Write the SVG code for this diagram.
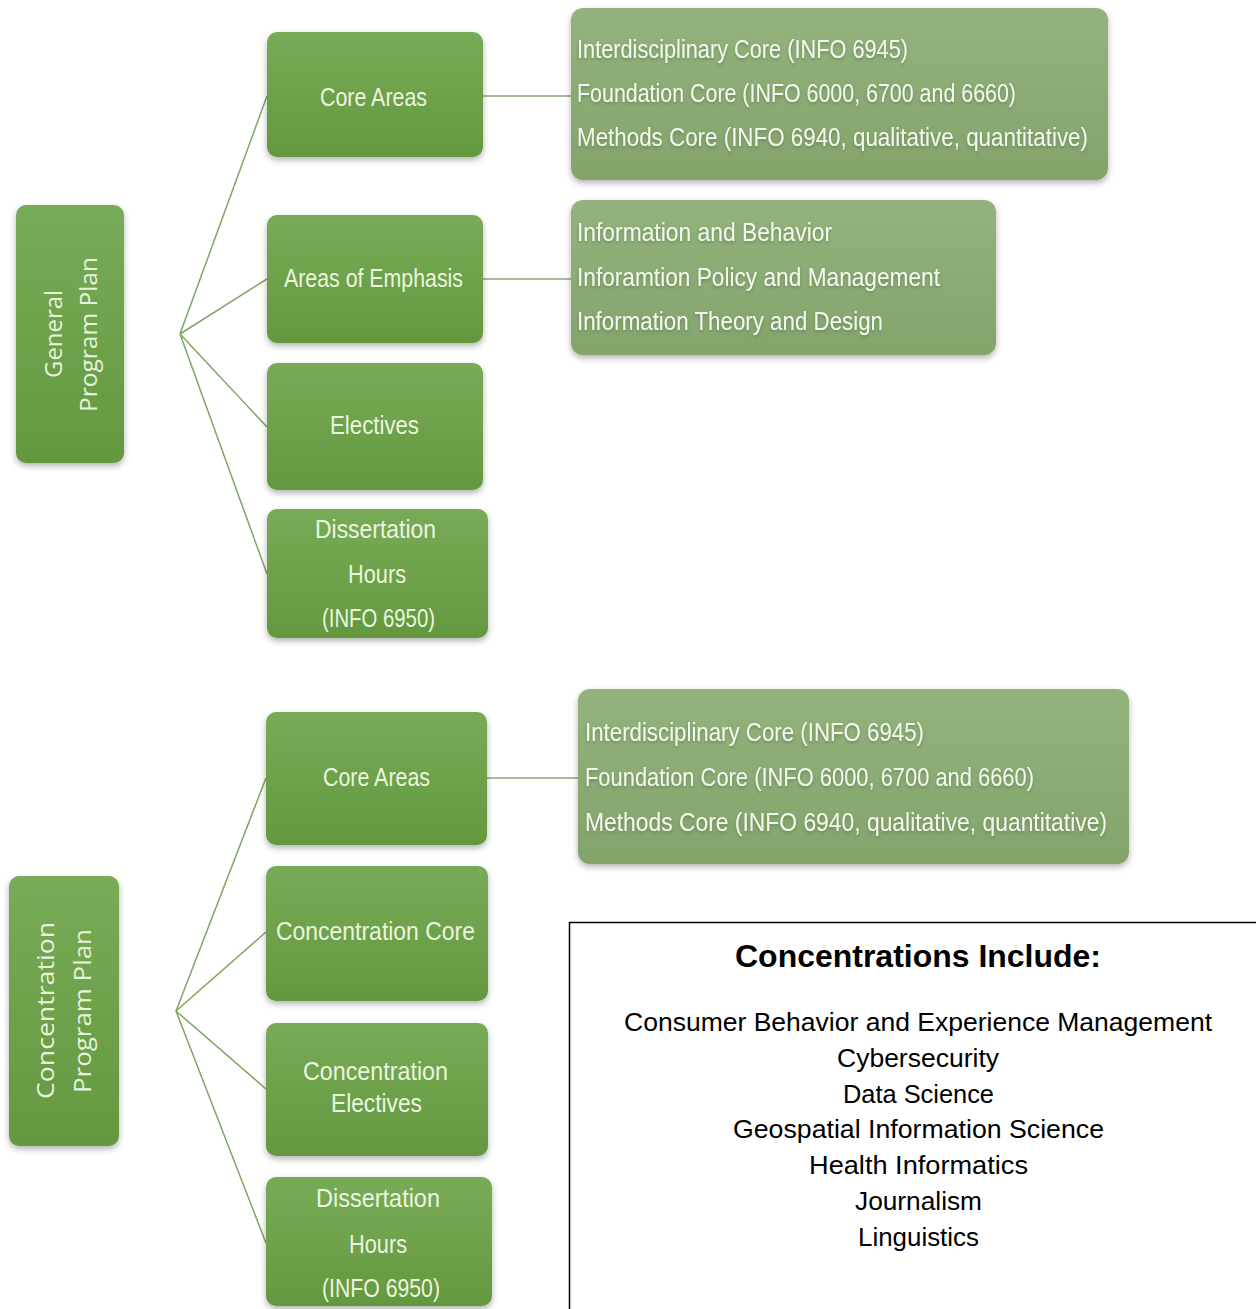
<svg xmlns="http://www.w3.org/2000/svg" width="1256" height="1309" viewBox="0 0 1256 1309">
<style>
.node{fill:url(#gNode);filter:url(#sh)}
.list{fill:url(#gList);filter:url(#sh)}
.nt{font-family:"Liberation Sans",Arial,sans-serif;font-size:25px;fill:#eaf5df}
.rt{font-family:"Open Sans","Liberation Sans",sans-serif;font-size:23px;fill:#e6f3dc}
.lt{font-family:"Liberation Sans",Arial,sans-serif;font-size:25px;fill:#f3f8ee;filter:url(#glow)}
.conn line{stroke:#7ea560;stroke-width:1.5;fill:none}
.conn line.h{stroke:#8aa67a}
.ct{font-family:"Liberation Sans",Arial,sans-serif;font-size:25px;fill:#000;text-anchor:start}
</style>
<defs>
<linearGradient id="gNode" x1="0" y1="0" x2="0" y2="1">
<stop offset="0" stop-color="#78ab57"/>
<stop offset="1" stop-color="#64983f"/>
</linearGradient>
<linearGradient id="gList" x1="0" y1="0" x2="0" y2="1">
<stop offset="0" stop-color="#93b27d"/>
<stop offset="1" stop-color="#84a46c"/>
</linearGradient>
<filter id="sh" x="-10%" y="-10%" width="120%" height="130%">
<feDropShadow dx="0" dy="3" stdDeviation="3" flood-color="#000" flood-opacity="0.3"/>
</filter>
<filter id="glow" x="-5%" y="-30%" width="110%" height="160%">
<feDropShadow dx="0" dy="2" stdDeviation="1.5" flood-color="#4e6b3c" flood-opacity="0.5"/>
</filter>
</defs>
<rect width="1256" height="1309" fill="#fff"/>

<g id="connectors" class="conn">
<line x1="180" y1="334" x2="267" y2="96"/>
<line x1="180" y1="334" x2="267" y2="279"/>
<line x1="180" y1="334" x2="267" y2="427"/>
<line x1="180" y1="334" x2="267" y2="574"/>
<line class="h" x1="483" y1="96" x2="572" y2="96"/>
<line class="h" x1="483" y1="279" x2="572" y2="279"/>
<line x1="176" y1="1011" x2="266" y2="778"/>
<line x1="176" y1="1011" x2="266" y2="932"/>
<line x1="176" y1="1011" x2="266" y2="1089"/>
<line x1="176" y1="1011" x2="266" y2="1243"/>
<line class="h" x1="487" y1="778" x2="579" y2="778"/>
</g>

<g id="general-program-plan">
<rect class="node" x="16" y="205" width="108" height="258" rx="10"/>
<g transform="translate(0,334) rotate(-90)">
<text class="rt" x="-44" y="62" textLength="88" lengthAdjust="spacingAndGlyphs">General</text>
<text class="rt" x="-78" y="97" textLength="155" lengthAdjust="spacingAndGlyphs">Program Plan</text>
</g>
</g>

<g id="core-areas-1">
<rect class="node" x="267" y="32" width="216" height="125" rx="10"/>
<text class="nt" x="320" y="106" textLength="107" lengthAdjust="spacingAndGlyphs">Core Areas</text>
</g>
<g id="areas-of-emphasis">
<rect class="node" x="267" y="215" width="216" height="128" rx="10"/>
<text class="nt" x="284" y="287" textLength="179" lengthAdjust="spacingAndGlyphs">Areas of Emphasis</text>
</g>
<g id="electives-1">
<rect class="node" x="267" y="363" width="216" height="127" rx="10"/>
<text class="nt" x="330" y="434" textLength="89" lengthAdjust="spacingAndGlyphs">Electives</text>
</g>
<g id="dissertation-1">
<rect class="node" x="267" y="509" width="221" height="129" rx="10"/>
<text class="nt" x="315" y="538" textLength="121" lengthAdjust="spacingAndGlyphs">Dissertation</text>
<text class="nt" x="348" y="583" textLength="58" lengthAdjust="spacingAndGlyphs">Hours</text>
<text class="nt" x="322" y="627" textLength="113" lengthAdjust="spacingAndGlyphs">(INFO 6950)</text>
</g>

<g id="core-list-1">
<rect class="list" x="571" y="8" width="537" height="172" rx="12"/>
<text class="lt" x="577" y="58" textLength="331" lengthAdjust="spacingAndGlyphs">Interdisciplinary Core (INFO 6945)</text>
<text class="lt" x="577" y="102" textLength="439" lengthAdjust="spacingAndGlyphs">Foundation Core (INFO 6000, 6700  and 6660)</text>
<text class="lt" x="577" y="146" textLength="511" lengthAdjust="spacingAndGlyphs">Methods Core (INFO 6940,  qualitative, quantitative)</text>
</g>
<g id="emphasis-list">
<rect class="list" x="571" y="200" width="425" height="155" rx="12"/>
<text class="lt" x="577" y="241" textLength="255" lengthAdjust="spacingAndGlyphs">Information and Behavior</text>
<text class="lt" x="577" y="286" textLength="363" lengthAdjust="spacingAndGlyphs">Inforamtion Policy and Management</text>
<text class="lt" x="577" y="330" textLength="306" lengthAdjust="spacingAndGlyphs">Information Theory and Design</text>
</g>

<g id="concentration-program-plan">
<rect class="node" x="9" y="876" width="110" height="270" rx="10"/>
<g transform="translate(0,1011) rotate(-90)">
<text class="rt" x="-88" y="54" textLength="177" lengthAdjust="spacingAndGlyphs">Concentration</text>
<text class="rt" x="-82" y="91" textLength="164" lengthAdjust="spacingAndGlyphs">Program Plan</text>
</g>
</g>

<g id="core-areas-2">
<rect class="node" x="266" y="712" width="221" height="133" rx="10"/>
<text class="nt" x="323" y="786" textLength="107" lengthAdjust="spacingAndGlyphs">Core Areas</text>
</g>
<g id="concentration-core">
<rect class="node" x="266" y="866" width="222" height="135" rx="10"/>
<text class="nt" x="276" y="940" textLength="199" lengthAdjust="spacingAndGlyphs">Concentration Core</text>
</g>
<g id="concentration-electives">
<rect class="node" x="266" y="1023" width="222" height="133" rx="10"/>
<text class="nt" x="303" y="1080" textLength="145" lengthAdjust="spacingAndGlyphs">Concentration</text>
<text class="nt" x="331" y="1112" textLength="91" lengthAdjust="spacingAndGlyphs">Electives</text>
</g>
<g id="dissertation-2">
<rect class="node" x="266" y="1177" width="226" height="129" rx="10"/>
<text class="nt" x="316" y="1207" textLength="124" lengthAdjust="spacingAndGlyphs">Dissertation</text>
<text class="nt" x="349" y="1253" textLength="58" lengthAdjust="spacingAndGlyphs">Hours</text>
<text class="nt" x="322" y="1297" textLength="118" lengthAdjust="spacingAndGlyphs">(INFO 6950)</text>
</g>

<g id="core-list-2">
<rect class="list" x="578" y="689" width="551" height="175" rx="12"/>
<text class="lt" x="585" y="741" textLength="339" lengthAdjust="spacingAndGlyphs">Interdisciplinary Core (INFO 6945)</text>
<text class="lt" x="585" y="786" textLength="449" lengthAdjust="spacingAndGlyphs">Foundation Core (INFO 6000, 6700  and 6660)</text>
<text class="lt" x="585" y="831" textLength="522" lengthAdjust="spacingAndGlyphs">Methods Core (INFO 6940,  qualitative, quantitative)</text>
</g>

<g id="concentrations-include">
<rect x="569.5" y="922.5" width="720" height="420" fill="#fff" stroke="#000" stroke-width="1.5"/>
<text x="735" y="967" font-family="Liberation Sans, Arial, sans-serif" font-size="32" font-weight="bold" fill="#000" textLength="366" lengthAdjust="spacingAndGlyphs">Concentrations Include:</text>
<text class="ct" x="624" y="1031" textLength="588" lengthAdjust="spacingAndGlyphs">Consumer Behavior and Experience Management</text>
<text class="ct" x="837" y="1067" textLength="162" lengthAdjust="spacingAndGlyphs">Cybersecurity</text>
<text class="ct" x="843" y="1103" textLength="151" lengthAdjust="spacingAndGlyphs">Data Science</text>
<text class="ct" x="733" y="1138" textLength="371" lengthAdjust="spacingAndGlyphs">Geospatial Information Science</text>
<text class="ct" x="809" y="1174" textLength="219" lengthAdjust="spacingAndGlyphs">Health Informatics</text>
<text class="ct" x="855" y="1210" textLength="127" lengthAdjust="spacingAndGlyphs">Journalism</text>
<text class="ct" x="858" y="1246" textLength="121" lengthAdjust="spacingAndGlyphs">Linguistics</text>
</g>
</svg>
